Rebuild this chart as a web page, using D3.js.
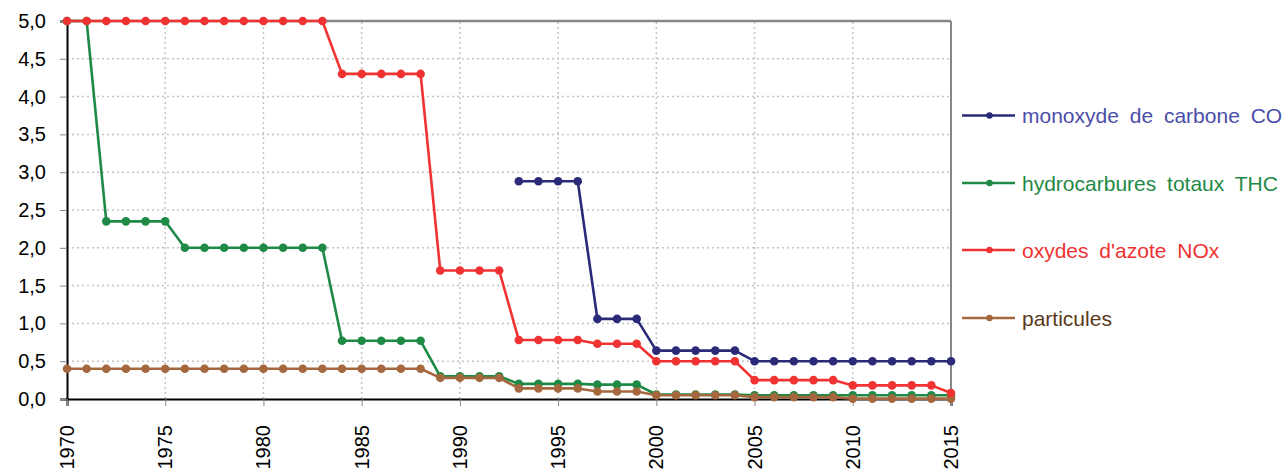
<!DOCTYPE html>
<html><head><meta charset="utf-8">
<script src="https://cdn.jsdelivr.net/npm/d3@7"></script>
<style>
html,body{margin:0;padding:0;background:#fff;}
svg{display:block;font-family:"Liberation Sans",Arial,sans-serif;}
</style></head>
<body><svg id="c" width="1287" height="472"></svg>
<script>
const years = d3.range(1970, 2016);
function rep(v, n) { return Array(n).fill(v); }
const coValues = [].concat(rep(null,23), rep(2.88,4), rep(1.06,3), rep(0.64,5), rep(0.5,11));
const thcValues = [].concat(rep(5,2), rep(2.35,4), rep(2.0,8), rep(0.77,5), rep(0.3,4), rep(0.2,4), rep(0.19,3), rep(0.06,5), rep(0.05,11));
const noxValues = [].concat(rep(5,14), rep(4.3,5), rep(1.7,4), rep(0.78,4), rep(0.73,3), rep(0.5,5), rep(0.25,5), rep(0.18,5), [0.08]);
const pmValues = [].concat(rep(0.4,19), rep(0.28,4), rep(0.14,4), rep(0.1,3), rep(0.05,5), rep(0.025,5), rep(0.005,6));
const seriesNames = ["monoxyde de carbone CO", "hydrocarbures totaux THC", "oxydes d'azote NOx", "particules"];
const yTicks = [0,0.5,1,1.5,2,2.5,3,3.5,4,4.5,5];
const xTicks = [1970,1975,1980,1985,1990,1995,2000,2005,2010,2015];

const lineColors = ["#2b2a78", "#1e8a45", "#f03232", "#a5683e"];
const textColors = ["#4a4ea8", "#1e8a45", "#f03232", "#5a3818"];
const allValues = [coValues, thcValues, noxValues, pmValues];
const drawOrder = [0, 1, 3, 2];

const svg = d3.select("#c");
const x = d3.scaleLinear().domain([1970, 2015]).range([67, 951]);
const y = d3.scaleLinear().domain([0, 5]).range([399, 21]);

// grid
const g = svg.append("g");
g.selectAll("line.h").data(yTicks.filter(v => v > 0 && v < 5)).enter().append("line")
  .attr("x1", x(1970)).attr("x2", x(2015)).attr("y1", d => y(d)).attr("y2", d => y(d))
  .attr("stroke", "#c4c4c4").attr("stroke-width", 1.5).attr("stroke-dasharray", "2,3");
g.selectAll("line.v").data(xTicks.filter(v => v > 1970 && v < 2015)).enter().append("line")
  .attr("y1", y(0)).attr("y2", y(5)).attr("x1", d => x(d)).attr("x2", d => x(d))
  .attr("stroke", "#c4c4c4").attr("stroke-width", 1.5).attr("stroke-dasharray", "2,3");

// frame top/right
svg.append("line").attr("x1", x(1970)).attr("x2", x(2015)).attr("y1", y(5)).attr("y2", y(5))
  .attr("stroke", "#85878c").attr("stroke-width", 2.5);
svg.append("line").attr("x1", x(2015)).attr("x2", x(2015)).attr("y1", y(5)).attr("y2", y(0))
  .attr("stroke", "#85878c").attr("stroke-width", 2);

// axes
const yAxis = d3.axisLeft(y).tickValues(yTicks).tickSize(7).tickPadding(14)
  .tickFormat(d => d3.format(".1f")(d).replace(".", ","));
const ya = svg.append("g").attr("transform", `translate(${x(1970)},0)`).call(yAxis);
ya.select(".domain").attr("stroke", "#000").attr("stroke-width", 2);
ya.selectAll(".tick line").attr("stroke", "#888").attr("stroke-width", 1);
ya.selectAll("text").attr("font-size", 20).attr("fill", "#000")
  .attr("font-family", "'Liberation Sans', Arial, sans-serif");

const xAxis = d3.axisBottom(x).tickValues(xTicks).tickSize(7).tickFormat(d3.format("d"));
const xa = svg.append("g").attr("transform", `translate(0,${y(0)})`).call(xAxis);
xa.select(".domain").attr("stroke", "#000").attr("stroke-width", 2);
xa.selectAll(".tick line").attr("stroke", "#888").attr("stroke-width", 1);
xa.selectAll("text").attr("font-size", 20).attr("fill", "#000")
  .attr("font-family", "'Liberation Sans', Arial, sans-serif")
  .attr("text-anchor", "end").attr("transform", "translate(0,25) rotate(-90)")
  .attr("x", 0).attr("y", 0).attr("dy", "0.35em");
// re-position: rotate around tick center
xa.selectAll(".tick text").attr("transform", "translate(-0.5,26) rotate(-90)");

// series
const line = d3.line().defined(d => d.v !== null).x(d => x(d.yr)).y(d => y(d.v));
drawOrder.forEach(i => {
  const pts = years.map((yr, k) => ({yr, v: allValues[i][k]}));
  svg.append("path").datum(pts).attr("d", line).attr("fill", "none")
    .attr("stroke", lineColors[i]).attr("stroke-width", 2.6).attr("stroke-linejoin", "round");
  svg.append("g").selectAll("circle").data(pts.filter(d => d.v !== null)).enter().append("circle")
    .attr("cx", d => x(d.yr)).attr("cy", d => y(d.v)).attr("r", 4.3).attr("fill", lineColors[i]);
});

// legend
const legendY = [115.5, 183, 250, 318];
seriesNames.forEach((name, i) => {
  const lg = svg.append("g").attr("transform", `translate(0,${legendY[i]})`);
  lg.append("line").attr("x1", 962).attr("x2", 1015).attr("y1", 0).attr("y2", 0)
    .attr("stroke", lineColors[i]).attr("stroke-width", 2.6);
  lg.append("circle").attr("cx", 989.5).attr("cy", 0).attr("r", 3.2).attr("fill", lineColors[i]);
  lg.append("text").attr("x", 1022).attr("y", 0).attr("dy", "0.36em")
    .attr("font-size", 21).attr("word-spacing", 5).attr("fill", textColors[i]).text(name);
});
</script></body></html>
